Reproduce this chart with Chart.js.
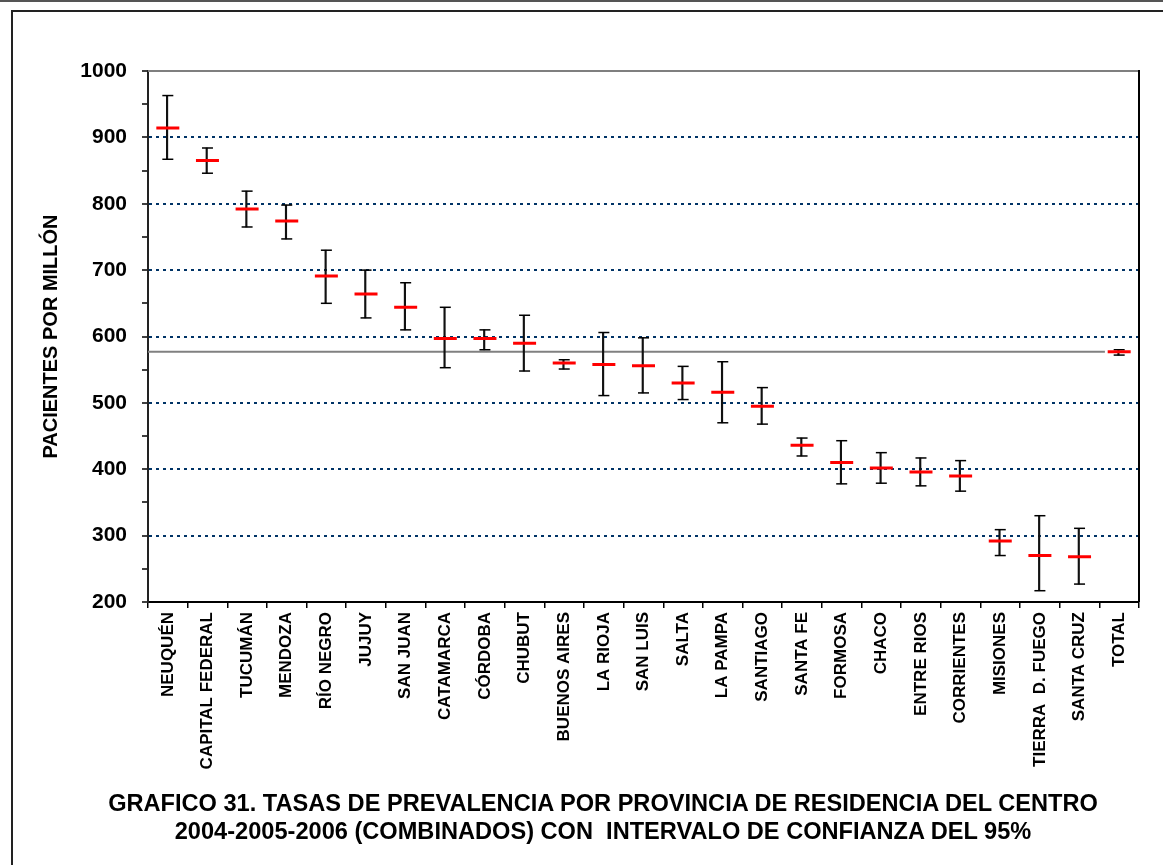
<!DOCTYPE html>
<html>
<head>
<meta charset="utf-8">
<script src="https://cdn.jsdelivr.net/npm/chart.js@4"></script>
<style>
  html, body { margin: 0; padding: 0; background: #fff; }
  body { width: 1163px; height: 865px; position: relative; overflow: hidden; }
  #topline { position: absolute; left: 0; top: 0; width: 1163px; border-top: 2px solid #555; }
  #frame { position: absolute; left: 11px; top: 10px; width: 1200px; height: 900px;
           border-top: 2px solid #222; border-left: 2px solid #222; }
  #wrap { position: absolute; left: 0; top: 0; width: 1163px; height: 865px; }
  #caption { position: absolute; left: 0; top: 789px; width: 1206px; text-align: center;
             font-family: "Liberation Sans", Arial, sans-serif; font-weight: bold;
             font-size: 23.6px; line-height: 28px; color: #000; }
</style>
</head>
<body>
<div id="topline"></div>
<div id="frame"></div>
<div id="wrap"><canvas id="prevalencia" width="1163" height="865"></canvas></div>
<div id="caption">GRAFICO 31. TASAS DE PREVALENCIA POR PROVINCIA DE RESIDENCIA DEL CENTRO<br>2004-2005-2006 (COMBINADOS) CON&nbsp; INTERVALO DE CONFIANZA DEL 95%</div>
<script>
let provincias = ["NEUQUÉN", "CAPITAL FEDERAL", "TUCUMÁN", "MENDOZA", "RÍO NEGRO", "JUJUY",
    "SAN JUAN", "CATAMARCA", "CÓRDOBA", "CHUBUT", "BUENOS AIRES", "LA RIOJA", "SAN LUIS",
    "SALTA", "LA PAMPA", "SANTIAGO", "SANTA FE", "FORMOSA", "CHACO", "ENTRE RIOS",
    "CORRIENTES", "MISIONES", "TIERRA  D. FUEGO", "SANTA CRUZ", "TOTAL"]
let tasas = [914, 865, 792, 774, 691, 664, 644, 597, 597, 590, 560, 558, 556,
    530, 516, 495, 436, 410, 402, 396, 390, 292, 270, 268, 577]
let ic_inferior = [867, 846, 765, 747, 650, 628, 610, 553, 580, 548, 551, 511, 515,
    505, 470, 468, 420, 378, 379, 375, 367, 270, 217, 227, 572]
let ic_superior = [963, 884, 819, 798, 730, 700, 681, 644, 610, 632, 565, 606, 598,
    555, 562, 523, 447, 443, 425, 417, 413, 309, 330, 311, 580]
let y_min = 200
let y_max = 1000
let y_step = 100

// the grey reference line is the TOTAL rate, running up to the TOTAL column
let total_rate = tasas[tasas.length - 1]
let total_line_end = provincias.length - 1.36

let font_family = "'Liberation Sans', Arial, sans-serif"

let intervalos = []
for (let i = 0; i < tasas.length; i++) {
    intervalos.push([ic_inferior[i], ic_superior[i]])
}

// plot frame: grey top edge, black right edge
const frame_plugin = {
    id: "frame",
    beforeDatasetsDraw(chart) {
        const a = chart.chartArea
        const ctx = chart.ctx
        ctx.save()
        ctx.lineWidth = 2
        ctx.strokeStyle = "#7f7f7f"
        ctx.beginPath()
        ctx.moveTo(a.left, a.top)
        ctx.lineTo(a.right, a.top)
        ctx.stroke()
        ctx.strokeStyle = "#000"
        ctx.beginPath()
        ctx.moveTo(a.right, a.top - 1)
        ctx.lineTo(a.right, a.bottom)
        ctx.stroke()
        ctx.restore()
    }
}

new Chart("prevalencia", {
    type: "bar",
    data: {
        labels: provincias,
        datasets: [{
            label: "Media",
            type: "line",
            data: tasas,
            showLine: false,
            pointStyle: "line",
            pointRadius: 11.5,
            pointBorderWidth: 3,
            borderColor: "#ff0000",
            backgroundColor: "#ff0000",
            order: 0
        }, {
            label: "Superior",
            type: "line",
            data: ic_superior,
            showLine: false,
            pointStyle: "line",
            pointRadius: 5.5,
            pointBorderWidth: 1.5,
            borderColor: "#000",
            order: 1
        }, {
            label: "Inferior",
            type: "line",
            data: ic_inferior,
            showLine: false,
            pointStyle: "line",
            pointRadius: 5.5,
            pointBorderWidth: 1.5,
            borderColor: "#000",
            order: 1
        }, {
            label: "IC 95%",
            data: intervalos,
            barThickness: 1.5,
            backgroundColor: "#111",
            borderWidth: 0,
            order: 2
        }, {
            label: "Total",
            type: "line",
            xAxisID: "xl",
            data: [{x: -0.5, y: total_rate}, {x: total_line_end, y: total_rate}],
            borderColor: "#808080",
            borderWidth: 2,
            pointRadius: 0,
            order: 3
        }]
    },
    options: {
        responsive: false,
        animation: false,
        events: [],
        layout: {padding: {left: 30, right: 24, top: 71, bottom: 76}},
        plugins: {
            legend: {display: false},
            tooltip: {enabled: false}
        },
        scales: {
            x: {
                offset: true,
                afterFit(scale) { scale.height = 187 },
                grid: {
                    offset: true,
                    drawOnChartArea: false,
                    color: "#000",
                    tickLength: 6,
                    lineWidth: 1.5
                },
                border: {color: "#000", width: 2},
                ticks: {
                    autoSkip: false,
                    minRotation: 90,
                    maxRotation: 90,
                    padding: 4,
                    color: "#000",
                    font: {family: font_family, size: 17, weight: "bold"}
                }
            },
            xl: {
                type: "linear",
                display: false,
                offset: false,
                grace: 0,
                bounds: "ticks",
                min: -0.5,
                max: provincias.length - 0.5
            },
            y: {
                min: y_min,
                max: y_max,
                afterFit(scale) { scale.width = 118 },
                grid: {
                    color: (c) => (c.tick && c.tick.value % y_step == 0 && c.tick.value != y_min) ? "#003366" : "rgba(0,0,0,0)",
                    lineWidth: 2,
                    tickColor: "#000",
                    tickWidth: 1.5,
                    tickLength: 6
                },
                border: {color: "#222", width: 2, dash: [3, 4]},
                ticks: {
                    stepSize: y_step / 2,
                    padding: 15,
                    color: "#000",
                    font: {family: font_family, size: 21, weight: "bold"},
                    callback: (v) => v % y_step == 0 ? v : ""
                },
                title: {
                    display: true,
                    text: "PACIENTES POR MILLÓN",
                    color: "#000",
                    padding: {top: 9, bottom: 0},
                    font: {family: font_family, size: 20, weight: "bold"}
                }
            }
        }
    },
    plugins: [frame_plugin]
})
</script>
</body>
</html>
